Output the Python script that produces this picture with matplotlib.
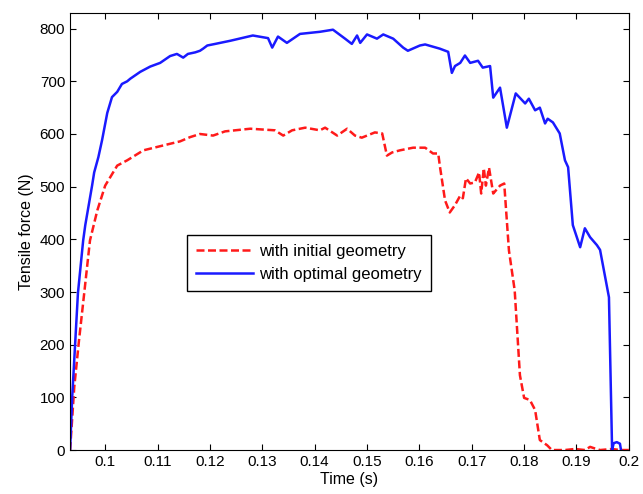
import matplotlib
matplotlib.use("Agg")
import matplotlib.pyplot as plt

plt.rcParams['font.family'] = ['Liberation Sans', 'DejaVu Sans']

# optimal geometry (blue, solid)
t_opt = [0.0933, 0.0937, 0.0943, 0.0948, 0.0958, 0.0962, 0.0975, 0.0979, 0.0987,
         0.0994, 0.1004, 0.1013, 0.1023, 0.1032, 0.1042, 0.1048, 0.1067, 0.1086, 0.1105,
         0.1124, 0.1137, 0.1149, 0.1158, 0.1172, 0.1181, 0.1187, 0.1195, 0.1210,
         0.1239, 0.1282, 0.1311, 0.1319, 0.1330, 0.1347, 0.1372, 0.1410, 0.1435,
         0.1458, 0.1471, 0.1481, 0.1487, 0.1500, 0.1519, 0.1531, 0.1550, 0.1569,
         0.1578, 0.1601, 0.1611, 0.1639, 0.1655, 0.1662, 0.1668, 0.1678, 0.1687,
         0.1697, 0.1712, 0.1721, 0.1735, 0.1741, 0.1754, 0.1767, 0.1784, 0.1802,
         0.1809, 0.1821, 0.1830, 0.1840, 0.1845, 0.1855, 0.1868, 0.1878, 0.1884,
         0.1893, 0.1907, 0.1916, 0.1926, 0.1939, 0.1945, 0.1962, 0.1968, 0.1971,
         0.1977, 0.1983, 0.1985]
f_opt = [0, 100, 208, 298, 398, 427, 502, 527, 556,
         588, 640, 670, 680, 695, 700, 705, 718, 728, 735,
         748, 752, 745, 752, 755, 758, 762, 768, 771,
         777, 787, 782, 764, 785, 773, 790, 794, 798,
         781, 771, 787, 773, 789, 781, 789, 781, 764,
         758, 768, 770, 762, 756, 716, 729, 735, 749,
         735, 739, 726, 729, 669, 688, 612, 677, 658,
         667, 645, 650, 620, 629, 622, 601, 550, 537,
         427, 385, 421, 404, 389, 380, 290, 0, 13,
         15, 12, 0]

# initial geometry (red, dashed)
t_ini = [0.0933, 0.0937, 0.0941, 0.0950, 0.0960, 0.0971, 0.0985, 0.1000, 0.1023,
         0.1042, 0.1073, 0.1118, 0.1143, 0.1162, 0.1181, 0.1206, 0.1229,
         0.1277, 0.1324, 0.1340, 0.1357, 0.1382, 0.1410, 0.1420, 0.1443, 0.1462,
         0.1477, 0.1490, 0.1515, 0.1529, 0.1538, 0.1548, 0.1563, 0.1588, 0.1611,
         0.1626, 0.1636, 0.1639, 0.1649, 0.1658, 0.1668, 0.1678, 0.1683, 0.1689,
         0.1697, 0.1706, 0.1714, 0.1718, 0.1723, 0.1727, 0.1733, 0.1741, 0.1754,
         0.1762, 0.1771, 0.1782, 0.1792, 0.1800, 0.1811, 0.1821, 0.1830, 0.1844,
         0.1853, 0.1878, 0.1897, 0.1916, 0.1926, 0.1935, 0.1945, 0.1968, 0.1983,
         0.2000]
f_ini = [0, 60, 120, 208, 298, 398, 455, 502, 540,
         550, 569, 580, 586, 594, 600, 597, 605,
         610, 607, 597, 607, 612, 607, 612, 597, 610,
         597, 593, 603, 601, 559, 565, 569, 574, 574,
         563, 563, 540, 474, 451, 465, 483, 478, 516,
         506, 508, 527, 487, 535, 502, 536, 487, 502,
         506, 379, 303, 142, 99, 95, 76, 19, 9,
         0, 0, 2, 0, 6, 3, 0, 2, 0,
         0]

fig = plt.figure(figsize=(6.43, 4.94), dpi=100)
ax = fig.add_axes([0.109, 0.089, 0.869, 0.885])

ax.plot(t_ini, f_ini, color='#ff1a1a', linestyle='--', linewidth=1.8,
        dashes=(3.2, 1.4), label='with initial geometry')
ax.plot(t_opt, f_opt, color='#1a1aff', linewidth=1.8, label='with optimal geometry')

ax.set_xlim(0.0933, 0.2)
ax.set_ylim(0, 830)
ax.set_xticks([0.1, 0.11, 0.12, 0.13, 0.14, 0.15, 0.16, 0.17, 0.18, 0.19, 0.2])
ax.set_xticklabels(['0.1', '0.11', '0.12', '0.13', '0.14', '0.15', '0.16',
                    '0.17', '0.18', '0.19', '0.2'])
ax.set_yticks(range(0, 801, 100))
ax.tick_params(direction='in', top=True, right=True, labelsize=11, length=4)
ax.set_xlabel('Time (s)', fontsize=11.5, labelpad=2)
ax.set_ylabel('Tensile force (N)', fontsize=11.5, labelpad=4)

ax.legend(loc='upper left', bbox_to_anchor=(0.209, 0.492), borderaxespad=0,
          fontsize=12, frameon=True, fancybox=False, edgecolor='black',
          framealpha=1, handlelength=3.4, borderpad=0.55, labelspacing=0.45,
          handletextpad=0.4)

fig.savefig('out.png', dpi=100)
